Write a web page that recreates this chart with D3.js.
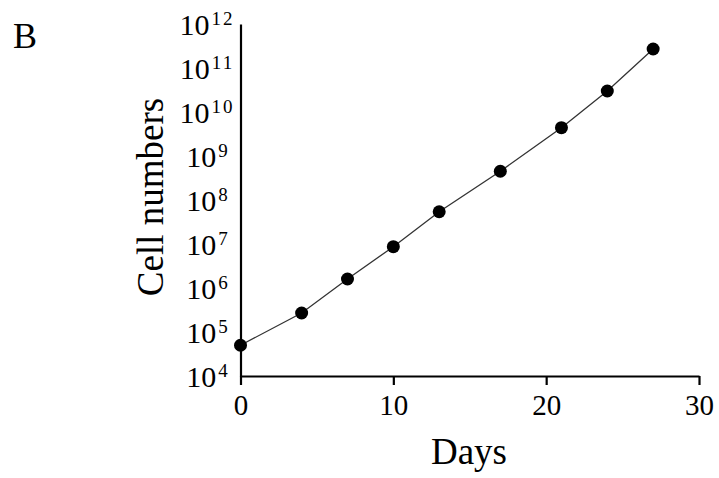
<!DOCTYPE html>
<html>
<head>
<meta charset="utf-8">
<script src="https://cdn.jsdelivr.net/npm/d3@7"></script>
<style>
  html, body { margin: 0; padding: 0; background: #fff; }
  svg { display: block; }
  text { font-family: "Liberation Serif", "Times New Roman", serif; fill: #000; }
</style>
</head>
<body>
<script>
// Growth curve: cell counts over days of culture
const days = [0, 4, 7, 10, 13, 17, 21, 24, 27];
const cellCounts = [5.0e4, 2.7e5, 1.6e6, 8.7e6, 5.4e7, 4.5e8, 4.4e9, 3.0e10, 2.7e11];
const xTicks = [0, 10, 20, 30];
const yExponents = [4, 5, 6, 7, 8, 9, 10, 11, 12];

const width = 719, height = 478;
const svg = d3.select("body").append("svg")
  .attr("width", width).attr("height", height);

const x = d3.scaleLinear().domain([0, 30]).range([240.5, 699]);
const y = d3.scaleLog().domain([1e4, 1e12]).range([376, 24]);

// Panel letter
svg.append("text").attr("x", 13).attr("y", 48)
  .attr("font-size", 36).text("B");

// X axis
const gx = svg.append("g").attr("transform", `translate(0,${y(1e4)})`)
  .call(d3.axisBottom(x).tickValues(xTicks).tickSize(9).tickSizeOuter(0).tickPadding(9));
gx.select(".domain").attr("stroke", "#000").attr("stroke-width", 2.2);
gx.selectAll(".tick line").attr("stroke", "#000").attr("stroke-width", 2.2);
gx.selectAll(".tick text").attr("font-size", 29).attr("font-family", null).attr("fill", "#000");

// Y axis (no tick marks, power-of-ten labels)
const gy = svg.append("g").attr("transform", `translate(${x(0)},0)`)
  .call(d3.axisLeft(y).tickValues(yExponents.map(e => Math.pow(10, e)))
    .tickSize(0).tickSizeOuter(0).tickFormat(() => ""));
gy.select(".domain").attr("stroke", "#000").attr("stroke-width", 2.2);

gy.selectAll(".tick").each(function(d, i) {
  const t = d3.select(this).select("text")
    .attr("x", 207 - x(0)).attr("dy", "0.34em")
    .attr("text-anchor", "middle")
    .attr("font-family", null).attr("font-size", 30).attr("fill", "#000");
  t.append("tspan").text("10");
  t.append("tspan").attr("dx", 2).attr("dy", -10).attr("font-size", 19)
    .attr("letter-spacing", yExponents[i] >= 10 ? 2 : 0)
    .text(yExponents[i]);
});

// Axis titles
svg.append("text").attr("x", 469).attr("y", 464)
  .attr("text-anchor", "middle").attr("font-size", 37).text("Days");
svg.append("text")
  .attr("transform", `translate(163,197) rotate(-90)`)
  .attr("text-anchor", "middle").attr("font-size", 37).text("Cell numbers");

// Data line and markers
const pts = days.map((d, i) => [d, cellCounts[i]]);
svg.append("path").datum(pts)
  .attr("fill", "none").attr("stroke", "#333").attr("stroke-width", 1.3)
  .attr("d", d3.line().x(p => x(p[0])).y(p => y(p[1])));
svg.selectAll("circle.pt").data(pts).enter().append("circle")
  .attr("class", "pt")
  .attr("cx", p => x(p[0])).attr("cy", p => y(p[1]))
  .attr("r", 6.5).attr("fill", "#000");
</script>
</body>
</html>
